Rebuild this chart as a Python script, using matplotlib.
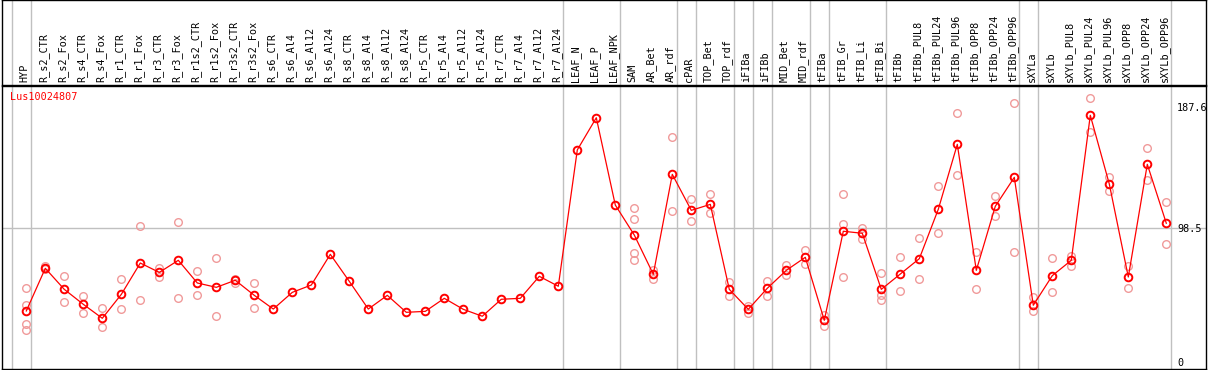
import matplotlib
matplotlib.use("Agg")
import matplotlib.pyplot as plt

categories = ["HYP", "R_s2_CTR", "R_s2_Fox", "R_s4_CTR", "R_s4_Fox", "R_r1_CTR", "R_r1_Fox",
              "R_r3_CTR", "R_r3_Fox", "R_r1s2_CTR", "R_r1s2_Fox", "R_r3s2_CTR", "R_r3s2_Fox",
              "R_s6_CTR", "R_s6_Al4", "R_s6_Al12", "R_s6_Al24", "R_s8_CTR", "R_s8_Al4",
              "R_s8_Al12", "R_s8_Al24", "R_r5_CTR", "R_r5_Al4", "R_r5_Al12", "R_r5_Al24",
              "R_r7_CTR", "R_r7_Al4", "R_r7_Al12", "R_r7_Al24", "LEAF_N", "LEAF_P", "LEAF_NPK",
              "SAM", "AR_Bet", "AR_rdf", "cPAR", "TOP_Bet", "TOP_rdf", "iFIBa", "iFIBb",
              "MID_Bet", "MID_rdf", "tFIBa", "tFIB_Gr", "tFIB_Li", "tFIB_Bi", "tFIBb",
              "tFIBb_PUL8", "tFIBb_PUL24", "tFIBb_PUL96", "tFIBb_OPP8", "tFIBb_OPP24",
              "tFIBb_OPP96", "sXYLa", "sXYLb", "sXYLb_PUL8", "sXYLb_PUL24", "sXYLb_PUL96",
              "sXYLb_OPP8", "sXYLb_OPP24", "sXYLb_OPP96"]

means = [37.6, 69.0, 53.5, 42.5, 32.2, 49.8, 72.9, 66.0, 74.9, 58.2, 55.0, 60.2, 49.1,
         39.0, 51.3, 56.7, 79.3, 59.4, 39.0, 49.1, 36.6, 37.3, 46.9, 38.8, 33.7,
         46.2, 46.9, 63.1, 55.8, 156.2, 179.9, 115.6, 93.5, 64.6, 138.2, 111.7, 116.1,
         53.5, 38.8, 54.3, 67.5, 77.1, 30.7, 96.3, 94.8, 53.5, 64.8, 76.1, 112.5, 160.3,
         67.5, 114.7, 136.0, 41.8, 63.6, 74.9, 181.7, 131.1, 62.6, 145.6, 102.2]

replicates = [
    [54.3, 41.8, 27.8, 23.6], [70.9, 68.5], [63.1, 44.0], [48.4, 35.9], [39.5, 25.5],
    [60.9, 38.8], [99.9, 45.4], [69.5, 62.6], [102.9, 46.9], [66.8, 49.1], [76.4, 33.7],
    [61.4, 58.5], [58.0, 39.5],
    [], [], [], [], [], [], [], [], [], [], [], [], [], [], [], [],
    [], [], [],
    [113.2, 105.1, 80.1, 75.1], [67.8, 61.1], [165.5, 111.0], [119.8, 103.6],
    [123.7, 109.5], [59.1, 48.8], [41.2, 36.3], [59.7, 48.8], [71.7, 63.8], [82.5, 72.0],
    [34.6, 26.7], [123.7, 101.4, 62.4], [98.9, 90.8], [65.3, 49.3, 45.7], [77.1, 52.1],
    [91.1, 60.9], [129.4, 94.8], [183.2, 137.5], [80.8, 53.5], [122.0, 107.3],
    [190.5, 80.8], [47.7, 37.3], [76.4, 51.6], [78.3, 70.9], [194.2, 169.2],
    [136.3, 125.7], [70.7, 54.3], [157.4, 133.8], [117.6, 86.7]]

group_ends = [-1, 0, 28, 31, 34, 35, 37, 38, 39, 41, 42, 45, 52, 53, 60]
ytick_values = [0, 98.5, 187.6]
ytick_labels = ["0", "98.5", "187.6"]
gene_name = "Lus10024807"

W, H = 1209, 370
fig = plt.figure(figsize=(W / 100, H / 100), dpi=100)
mono = "DejaVu Sans Mono"
fs = 7.3
grey = "#c0c0c0"

left_px, right_px = 2, 1206
ax = fig.add_axes([left_px / W, (H - 369) / H, (right_px - left_px) / W, (369 - 86) / H])
hdr = fig.add_axes([left_px / W, (H - 85) / H, (right_px - left_px) / W, 85 / H - 0.001])

x0, dx = 26.3, 19.0
xlim = ((left_px - x0) / dx, (right_px - x0) / dx)
ppu = 1.3577
ylim = ((362 - 369) / ppu, (362 - 86) / ppu)

for a in (ax, hdr):
    a.set_xlim(*xlim)
    a.set_xticks([])
    for s in a.spines.values():
        s.set_color("black")
        s.set_linewidth(1.0)
    for g in group_ends:
        a.axvline(g + 4.4 / dx, color=grey, lw=1.0, zorder=0)

hdr.set_ylim(0, 1)
hdr.set_yticks([])
for i, c in enumerate(categories):
    hdr.text(i - 0.1, 0.03, c, rotation=90, ha="center", va="bottom",
             family=mono, fontsize=fs, color="black")

ax.set_ylim(*ylim)
ax.axhline(98.5, color=grey, lw=1.0, zorder=0)
ax.yaxis.tick_right()
ax.set_yticks(ytick_values)
ax.set_yticklabels(ytick_labels, family=mono, fontsize=fs)
ax.tick_params(axis="y", length=0, pad=-(1206 - 1177) * 0.72)
for lab in ax.get_yticklabels():
    lab.set_horizontalalignment("left")

rx, ry = [], []
for i, reps in enumerate(replicates):
    for v in reps:
        rx.append(i)
        ry.append(v)
ax.plot(rx, ry, linestyle="none", marker="o", markersize=5.5, markerfacecolor="none",
        markeredgecolor="#f09a9a", markeredgewidth=1.0, zorder=2)

ax.plot(range(len(means)), means, color="#ff0000", lw=0.9, marker="o", markersize=5.5,
        markerfacecolor="none", markeredgecolor="#ff0000", markeredgewidth=1.4, zorder=3)

ax.text(8 / (right_px - left_px), 1 - 11 / 283, gene_name, transform=ax.transAxes,
        ha="left", va="center", family=mono, fontsize=fs, color="#ff0000")

fig.savefig("out.png", dpi=100)
